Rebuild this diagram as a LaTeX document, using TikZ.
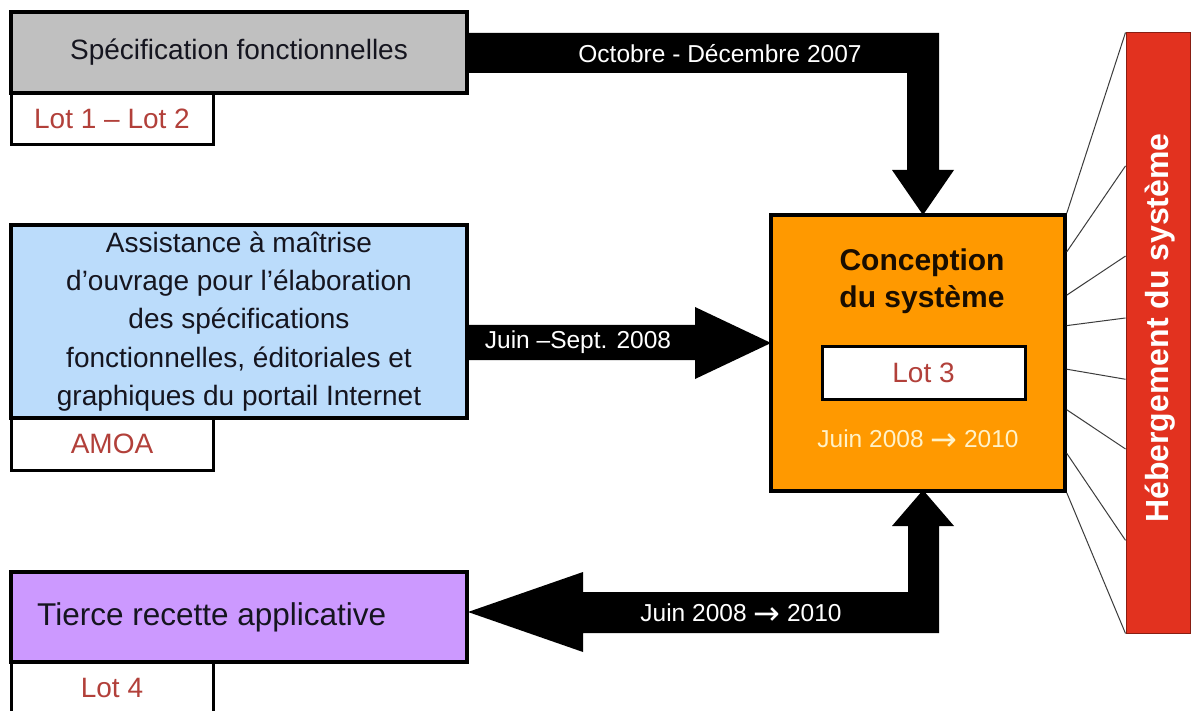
\documentclass[tikz,border=0pt]{standalone}
\usepackage{fontspec}
\setmainfont{Liberation Sans}
\newfontfamily\arrowfont{DejaVu Sans}
\newcommand{\toarrow}{{\arrowfont\fontsize{32}{32}\selectfont\raisebox{-3.5pt}{→}}}
\usetikzlibrary{calc}

\definecolor{specgray}{HTML}{C0C0C0}
\definecolor{amoablue}{HTML}{BBDCFB}
\definecolor{conceptorange}{HTML}{FF9900}
\definecolor{recettepurple}{HTML}{CC99FF}
\definecolor{hostred}{HTML}{E2321F}
\definecolor{lotred}{HTML}{B2403A}
\definecolor{inkdark}{HTML}{15151F}
\definecolor{paleyellow}{HTML}{FFF2C8}
\definecolor{fangray}{HTML}{3C3C3C}

\tikzset{
  mainbox/.style={draw=black, line width=3.5pt, inner sep=0pt, text=inkdark},
  lotbox/.style={draw=black, line width=3pt, fill=white, inner sep=0pt,
    text=lotred, font=\fontsize{28}{34}\selectfont,
    minimum width=202pt, minimum height=52pt},
  blockarrow/.style={fill=black, draw=none},
  arrowlabel/.style={text=white, font=\fontsize{24.5}{30}\selectfont, inner sep=0pt},
  fanline/.style={draw=fangray, line width=1pt}
}

\begin{document}
\begin{tikzpicture}[x=1pt, y=-1pt]
  \clip (0,0) rectangle (1197,711);
  \fill[white] (0,0) rectangle (1197,711);

  % block arrows
  \path[blockarrow] (467,33) -- (939,33) -- (939,170) -- (954,170) -- (923,215)
    -- (892,170) -- (907,170) -- (907,73) -- (467,73) -- cycle;
  \path[blockarrow] (467,325) -- (695,325) -- (695,307) -- (771,343)
    -- (695,379) -- (695,360) -- (467,360) -- cycle;
  \path[blockarrow] (923,490) -- (954,526) -- (939,526) -- (939,633)
    -- (583,633) -- (583,652) -- (468,612) -- (583,572) -- (583,592)
    -- (908,592) -- (908,526) -- (892,526) -- cycle;

  \node[arrowlabel] (l1) at (720,54) {Octobre - Décembre 2007};
  \node[arrowlabel] (l2) at (578,342) {Juin –Sept. 2008};
  \node[arrowlabel, anchor=base] (l3) at (741,621) {Juin 2008 \toarrow{} 2010};

  % left column
  \node[lotbox] (lot12) at (112,118.5) {Lot 1 – Lot 2};
  \node[mainbox, fill=specgray, minimum width=456pt, minimum height=81pt,
    font=\fontsize{28}{34}\selectfont] (spec) at (239,52.5)
    {Spécification fonctionnelles};

  \node[lotbox] (amoalot) at (112,444) {AMOA};
  \node[mainbox, fill=amoablue, minimum width=456pt, minimum height=193pt,
    align=center, font=\fontsize{28}{38.3}\selectfont] (amoa) at (239,321.5)
    {Assistance à maîtrise\\d’ouvrage pour l’élaboration\\des spécifications\\fonctionnelles, éditoriales et\\graphiques du portail Internet};

  \node[lotbox] (lot4) at (112,688) {Lot 4};
  \node[mainbox, fill=recettepurple, minimum width=456pt, minimum height=90pt]
    (tierce) at (239,617) {};
  \node[anchor=west, inner sep=0pt, text=inkdark,
    font=\fontsize{31.5}{36}\selectfont] (tiercetext) at (37,617)
    {Tierce recette applicative};

  % central block
  \node[mainbox, fill=conceptorange, minimum width=294pt, minimum height=276pt]
    (concept) at (918,353) {};
  \node[align=center, inner sep=0pt, text=black!90!orange,
    font=\bfseries\fontsize{30}{37}\selectfont] (concepttitle) at (922,281.5)
    {Conception\\du système};
  \node[lotbox, minimum width=203pt] (lot3) at (923.5,373) {Lot 3};
  \node[inner sep=0pt, anchor=base, text=paleyellow,
    font=\fontsize{24.5}{30}\selectfont]
    (conceptdate) at (918,447) {Juin 2008 \toarrow{} 2010};

  % hosting bar
  \node[draw=hostred!60!black, line width=1pt, fill=hostred, inner sep=0pt,
    minimum width=64pt, minimum height=600pt] (host) at (1158,333) {};
  \node[rotate=90, inner sep=0pt, text=white,
    font=\bfseries\fontsize{32}{36}\selectfont] (hosttext) at (1160,328)
    {Hébergement du système};

  % fan of links between the central block and the hosting bar
  \foreach \a/\b in {0/0, 0.138/0.222, 0.293/0.372, 0.402/0.475,
                     0.558/0.577, 0.703/0.693, 0.859/0.845, 1/1} {
    \draw[fanline] ($(concept.north east)!\a!(concept.south east)$)
      -- ($(host.north west)!\b!(host.south west)$);
  }
\end{tikzpicture}
\end{document}
